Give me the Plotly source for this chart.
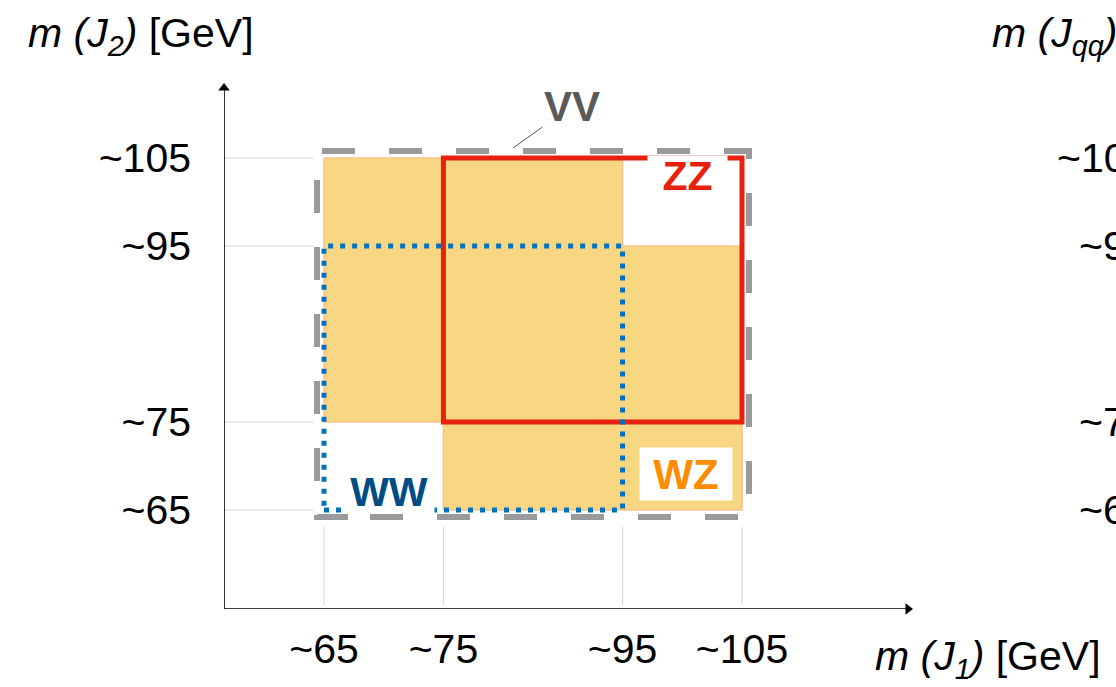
import numpy as np
import plotly.graph_objects as go

# Jet-mass windows (GeV) of the boosted diboson selection
w_window = [65, 95]      # W-tagged jet mass window
z_window = [75, 105]     # Z-tagged jet mass window
vv_window = [65, 105]    # inclusive VV window
mass_ticks = [65, 75, 95, 105]
tick_text = ["~65", "~75", "~95", "~105"]
region_names = ["VV", "ZZ", "WW", "WZ"]

# The sketch spaces the m(J1) cuts unevenly; this is the drawing position of each cut
X_SKETCH = [65, 75, 90, 100]


def sx(m):
    return float(np.interp(m, mass_ticks, X_SKETCH))


# ---- page geometry (pixels) ----
W, H = 1116, 687
L, R, T, B = 224, 912, 84, 609            # plotting area
X0_PX, X1_PX = 324, 742                   # pixel columns of the first/last cut
Y0_PX, Y1_PX = 510, 158                   # pixel rows of the first/last cut
kx = (X1_PX - X0_PX) / (sx(mass_ticks[-1]) - sx(mass_ticks[0]))
ky = (Y0_PX - Y1_PX) / (mass_ticks[-1] - mass_ticks[0])
x_range = [sx(mass_ticks[0]) - (X0_PX - L) / kx, sx(mass_ticks[0]) + (R - X0_PX) / kx]
y_range = [mass_ticks[0] - (B - Y0_PX) / ky, mass_ticks[-1] + (Y1_PX - T) / ky]


def xd(px):
    return sx(mass_ticks[0]) + (px - X0_PX) / kx


def yd(py):
    return mass_ticks[0] + (Y0_PX - py) / ky


def xp(px):
    return (px - L) / (R - L)


def yp(py):
    return (B - py) / (B - T)


FONT = "Liberation Sans, Arial, Helvetica, sans-serif"
TXT = 41
RED = "#E8210E"
BLUE = "#0072BC"
GRAY = "#9A9A9A"
ORANGE_FILL = "#F9D682"

fig = go.Figure()

# WZ region: one jet in the W window, the other in the Z window
w0, w1 = w_window
z0, z1 = z_window
wz_x = [w0, w1, w1, z1, z1, z0, z0, w0, w0]
wz_y = [z1, z1, w1, w1, w0, w0, z0, z0, z1]
fig.add_trace(go.Scatter(
    x=[sx(v) for v in wz_x], y=wz_y, mode="lines", fill="toself",
    fillcolor=ORANGE_FILL, line=dict(color="#F8C38C", width=1.5),
    hoverinfo="skip", showlegend=False,
))

# arrow heads at the ends of both axes
fig.add_trace(go.Scatter(
    x=[x_range[1] - 4 / kx, x_range[0]], y=[y_range[0], y_range[1] - 4 / ky],
    mode="markers", cliponaxis=False, hoverinfo="skip", showlegend=False,
    marker=dict(symbol=["triangle-right", "triangle-up"], size=10, color="black",
                line=dict(width=0)),
))

shapes = []
# axis lines
shapes.append(dict(type="line", xref="x", yref="y", x0=x_range[0], x1=x_range[1] - 6 / kx,
                   y0=y_range[0], y1=y_range[0], line=dict(color="black", width=1.6)))
shapes.append(dict(type="line", xref="x", yref="y", x0=x_range[0], x1=x_range[0],
                   y0=y_range[0], y1=y_range[1] - 6 / ky, line=dict(color="black", width=1.6)))

# short guide lines from the axes to the cuts
for m in mass_ticks:
    shapes.append(dict(type="line", xref="x", yref="y", x0=x_range[0], x1=xd(313),
                       y0=m, y1=m, line=dict(color="#D2D2D2", width=1), layer="below"))
    shapes.append(dict(type="line", xref="x", yref="y", x0=sx(m), x1=sx(m),
                       y0=yd(605), y1=yd(527), line=dict(color="#D2D2D2", width=1), layer="below"))

# ZZ: both jets in the Z window
shapes.append(dict(type="rect", xref="x", yref="y", x0=sx(z0), x1=sx(z1), y0=z0, y1=z1,
                   line=dict(color=RED, width=5), layer="above"))
# WW: both jets in the W window
shapes.append(dict(type="rect", xref="x", yref="y", x0=sx(w0), x1=sx(w1), y0=w0, y1=w1,
                   line=dict(color=BLUE, width=5, dash="5px,7px"), layer="above"))
# VV: inclusive box, drawn just outside the window
v0, v1 = vv_window
pad_x, pad_y = 7 / kx, 7 / ky
vl, vr = sx(v0) - pad_x, sx(v1) + pad_x
vb, vt = v0 - pad_y, v1 + pad_y
vs = xd(370)
shapes.append(dict(type="path", xref="x", yref="y",
                   path=f"M {vs},{vb} L {vr},{vb} L {vr},{vt} L {vl},{vt} L {vl},{vb} Z",
                   line=dict(color=GRAY, width=6, dash="33px,34px"), layer="above"))

annotations = []


def label(px, py, text, size, color, **kw):
    d = dict(xref="paper", yref="paper", x=xp(px), y=yp(py), xanchor="center",
             yanchor="middle", text=text, showarrow=False,
             font=dict(family=FONT, size=size, color=color))
    d.update(kw)
    annotations.append(d)


# axis titles
label(141, 36, "<i>m (J<sub>2</sub>)</i> [GeV]", TXT, "black")
label(988, 659, "<i>m (J<sub>1</sub>)</i> [GeV]", TXT, "black")

# neighbouring panel (continues to the right)
label(990, 36, "<i>m (J<sub>qq</sub>)</i> [GeV]", TXT, "black", xanchor="left")
for m, t in zip(mass_ticks, tick_text):
    annotations.append(dict(xref="paper", yref="y", x=xp(1151), y=m, xanchor="right",
                            yanchor="middle", text=t, showarrow=False,
                            font=dict(family=FONT, size=TXT, color="black")))

# region labels
lab_vv, lab_zz, lab_ww, lab_wz = region_names
annotations.append(dict(xref="paper", yref="paper", x=xp(513), y=yp(148),
                        ax=572 - 513, ay=106 - 148, text=f"<b>{lab_vv}</b>",
                        showarrow=True, arrowhead=0, arrowwidth=1, arrowcolor="#555555",
                        font=dict(family=FONT, size=42, color="#5A5A5A")))
label(687.5, 176, f"<b>{lab_zz}</b>", 41, RED, width=79, height=40,
      bgcolor="white", borderpad=0)
label(389, 491.5, f"<b>{lab_ww}</b>", 41, "#004C84", width=90, height=43,
      bgcolor="white", borderpad=0)
label(686, 474, f"<b>{lab_wz}</b>", 42, "#FF8C00", width=92, height=52,
      bgcolor="white", borderpad=0)

fig.update_layout(
    width=W, height=H,
    margin=dict(l=L, r=W - R, t=T, b=H - B, pad=0, autoexpand=False),
    paper_bgcolor="white", plot_bgcolor="white",
    showlegend=False,
    shapes=shapes, annotations=annotations,
    xaxis=dict(range=x_range, showgrid=False, zeroline=False, showline=False,
               tickmode="array", tickvals=[sx(m) for m in mass_ticks], ticktext=tick_text,
               ticks="", ticklabelstandoff=12, fixedrange=True,
               tickfont=dict(family=FONT, size=TXT, color="black")),
    yaxis=dict(range=y_range, showgrid=False, zeroline=False, showline=False,
               tickmode="array", tickvals=mass_ticks, ticktext=tick_text,
               ticks="", ticklabelstandoff=32, fixedrange=True,
               tickfont=dict(family=FONT, size=TXT, color="black")),
)

fig.write_html("out.html")
